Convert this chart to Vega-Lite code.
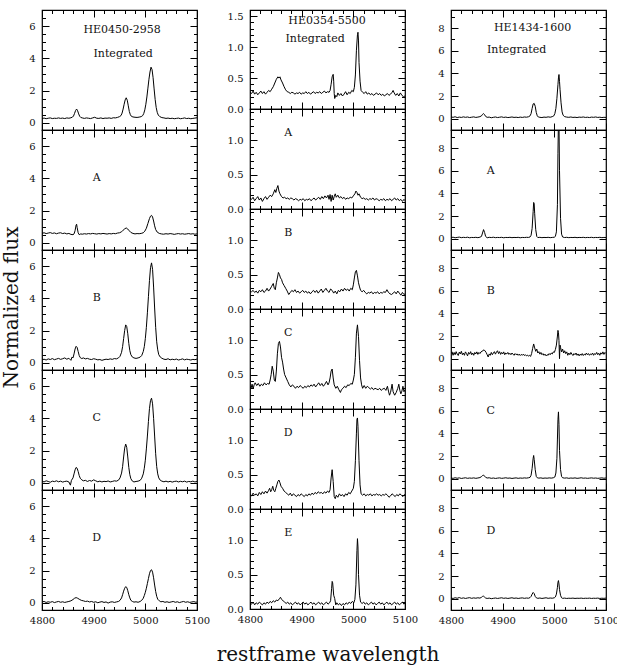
{
  "$schema": "https://vega.github.io/schema/vega-lite/v6.json",
  "background": "white",
  "padding": {"left": 0, "top": 8, "right": 0, "bottom": 0},
  "config": {
    "view": {"stroke": "black", "strokeWidth": 1.2},
    "axis": {"domain": false, "grid": false, "labelFlush": false, "labelOverlap": false, "tickColor": "black", "tickWidth": 1, "labelFont": "DejaVu Serif", "labelFontSize": 10, "labelColor": "#111", "titleFont": "DejaVu Serif", "titleFontSize": 20, "titleFontWeight": "normal", "titleColor": "#111"},
    "axisX": {"labelPadding": 12},
    "axisY": {"labelPadding": 14}
  },
  "datasets": {
    "c1i": [{"w":4800,"f":0.26},{"w":4804,"f":0.29},{"w":4808,"f":0.25},{"w":4812,"f":0.28},{"w":4816,"f":0.3},{"w":4820,"f":0.26},{"w":4824,"f":0.28},{"w":4828,"f":0.27},{"w":4832,"f":0.3},{"w":4836,"f":0.27},{"w":4840,"f":0.29},{"w":4844,"f":0.26},{"w":4848,"f":0.3},{"w":4852,"f":0.28},{"w":4856,"f":0.31},{"w":4859,"f":0.35},{"w":4861,"f":0.42},{"w":4863,"f":0.58},{"w":4865,"f":0.76},{"w":4867,"f":0.85},{"w":4869,"f":0.74},{"w":4871,"f":0.55},{"w":4873,"f":0.4},{"w":4875,"f":0.33},{"w":4878,"f":0.3},{"w":4882,"f":0.27},{"w":4886,"f":0.3},{"w":4890,"f":0.28},{"w":4894,"f":0.26},{"w":4898,"f":0.3},{"w":4902,"f":0.34},{"w":4906,"f":0.28},{"w":4910,"f":0.27},{"w":4914,"f":0.3},{"w":4918,"f":0.26},{"w":4922,"f":0.29},{"w":4926,"f":0.28},{"w":4930,"f":0.3},{"w":4934,"f":0.27},{"w":4938,"f":0.31},{"w":4942,"f":0.3},{"w":4946,"f":0.33},{"w":4950,"f":0.38},{"w":4953,"f":0.45},{"w":4955,"f":0.6},{"w":4957,"f":0.85},{"w":4959,"f":1.15},{"w":4961,"f":1.42},{"w":4963,"f":1.55},{"w":4965,"f":1.4},{"w":4967,"f":1.05},{"w":4969,"f":0.7},{"w":4971,"f":0.5},{"w":4973,"f":0.4},{"w":4976,"f":0.36},{"w":4980,"f":0.34},{"w":4984,"f":0.33},{"w":4988,"f":0.35},{"w":4992,"f":0.38},{"w":4995,"f":0.45},{"w":4997,"f":0.58},{"w":4999,"f":0.8},{"w":5001,"f":1.15},{"w":5003,"f":1.6},{"w":5005,"f":2.15},{"w":5007,"f":2.7},{"w":5009,"f":3.15},{"w":5011,"f":3.45},{"w":5013,"f":3.3},{"w":5015,"f":2.8},{"w":5017,"f":2.1},{"w":5019,"f":1.45},{"w":5021,"f":0.95},{"w":5023,"f":0.65},{"w":5025,"f":0.48},{"w":5028,"f":0.38},{"w":5032,"f":0.32},{"w":5036,"f":0.3},{"w":5040,"f":0.27},{"w":5044,"f":0.29},{"w":5048,"f":0.26},{"w":5052,"f":0.28},{"w":5056,"f":0.25},{"w":5060,"f":0.27},{"w":5064,"f":0.29},{"w":5068,"f":0.25},{"w":5072,"f":0.27},{"w":5076,"f":0.3},{"w":5080,"f":0.26},{"w":5084,"f":0.28},{"w":5088,"f":0.25},{"w":5092,"f":0.27},{"w":5096,"f":0.29},{"w":5100,"f":0.31}],
    "c1a": [{"w":4800,"f":0.58},{"w":4804,"f":0.62},{"w":4808,"f":0.57},{"w":4812,"f":0.6},{"w":4816,"f":0.63},{"w":4820,"f":0.58},{"w":4824,"f":0.61},{"w":4828,"f":0.56},{"w":4832,"f":0.6},{"w":4836,"f":0.62},{"w":4840,"f":0.57},{"w":4844,"f":0.6},{"w":4848,"f":0.55},{"w":4852,"f":0.58},{"w":4856,"f":0.52},{"w":4860,"f":0.5},{"w":4862,"f":0.55},{"w":4864,"f":0.75},{"w":4866,"f":1.1},{"w":4867,"f":1.15},{"w":4868,"f":0.95},{"w":4870,"f":0.62},{"w":4872,"f":0.5},{"w":4875,"f":0.55},{"w":4878,"f":0.53},{"w":4882,"f":0.56},{"w":4886,"f":0.54},{"w":4890,"f":0.57},{"w":4894,"f":0.55},{"w":4898,"f":0.58},{"w":4902,"f":0.56},{"w":4906,"f":0.54},{"w":4910,"f":0.57},{"w":4914,"f":0.55},{"w":4918,"f":0.58},{"w":4922,"f":0.56},{"w":4926,"f":0.54},{"w":4930,"f":0.57},{"w":4934,"f":0.55},{"w":4938,"f":0.58},{"w":4942,"f":0.56},{"w":4946,"f":0.6},{"w":4950,"f":0.62},{"w":4954,"f":0.68},{"w":4957,"f":0.78},{"w":4960,"f":0.86},{"w":4963,"f":0.92},{"w":4966,"f":0.85},{"w":4969,"f":0.74},{"w":4972,"f":0.64},{"w":4976,"f":0.58},{"w":4980,"f":0.55},{"w":4984,"f":0.57},{"w":4988,"f":0.56},{"w":4992,"f":0.58},{"w":4996,"f":0.62},{"w":4999,"f":0.72},{"w":5002,"f":0.9},{"w":5005,"f":1.2},{"w":5008,"f":1.5},{"w":5010,"f":1.65},{"w":5012,"f":1.7},{"w":5014,"f":1.6},{"w":5016,"f":1.35},{"w":5018,"f":1.05},{"w":5020,"f":0.82},{"w":5023,"f":0.66},{"w":5027,"f":0.58},{"w":5031,"f":0.55},{"w":5035,"f":0.53},{"w":5040,"f":0.56},{"w":5044,"f":0.54},{"w":5048,"f":0.57},{"w":5052,"f":0.55},{"w":5056,"f":0.52},{"w":5060,"f":0.55},{"w":5064,"f":0.57},{"w":5068,"f":0.54},{"w":5072,"f":0.56},{"w":5076,"f":0.53},{"w":5080,"f":0.55},{"w":5084,"f":0.57},{"w":5088,"f":0.54},{"w":5092,"f":0.56},{"w":5096,"f":0.53},{"w":5100,"f":0.55}],
    "c1b": [{"w":4800,"f":0.18},{"w":4804,"f":0.22},{"w":4808,"f":0.17},{"w":4812,"f":0.24},{"w":4816,"f":0.2},{"w":4820,"f":0.26},{"w":4824,"f":0.19},{"w":4828,"f":0.23},{"w":4832,"f":0.27},{"w":4836,"f":0.21},{"w":4840,"f":0.25},{"w":4844,"f":0.3},{"w":4848,"f":0.22},{"w":4852,"f":0.28},{"w":4856,"f":0.15},{"w":4858,"f":0.35},{"w":4860,"f":0.3},{"w":4862,"f":0.55},{"w":4864,"f":0.85},{"w":4866,"f":1.02},{"w":4868,"f":0.95},{"w":4870,"f":0.7},{"w":4872,"f":0.45},{"w":4874,"f":0.32},{"w":4877,"f":0.26},{"w":4880,"f":0.3},{"w":4884,"f":0.24},{"w":4888,"f":0.27},{"w":4892,"f":0.22},{"w":4896,"f":0.2},{"w":4900,"f":0.25},{"w":4904,"f":0.22},{"w":4908,"f":0.18},{"w":4912,"f":0.2},{"w":4916,"f":0.15},{"w":4920,"f":0.19},{"w":4924,"f":0.22},{"w":4928,"f":0.2},{"w":4932,"f":0.24},{"w":4936,"f":0.21},{"w":4940,"f":0.26},{"w":4944,"f":0.24},{"w":4948,"f":0.3},{"w":4951,"f":0.4},{"w":4954,"f":0.65},{"w":4956,"f":1.0},{"w":4958,"f":1.5},{"w":4960,"f":2.0},{"w":4962,"f":2.35},{"w":4964,"f":2.25},{"w":4966,"f":1.8},{"w":4968,"f":1.2},{"w":4970,"f":0.75},{"w":4972,"f":0.5},{"w":4975,"f":0.35},{"w":4978,"f":0.3},{"w":4982,"f":0.27},{"w":4986,"f":0.3},{"w":4990,"f":0.35},{"w":4993,"f":0.45},{"w":4996,"f":0.7},{"w":4998,"f":1.0},{"w":5000,"f":1.5},{"w":5002,"f":2.2},{"w":5004,"f":3.1},{"w":5006,"f":4.1},{"w":5008,"f":5.1},{"w":5010,"f":5.9},{"w":5012,"f":6.2},{"w":5014,"f":5.8},{"w":5016,"f":4.7},{"w":5018,"f":3.4},{"w":5020,"f":2.2},{"w":5022,"f":1.3},{"w":5024,"f":0.8},{"w":5026,"f":0.5},{"w":5029,"f":0.35},{"w":5032,"f":0.28},{"w":5036,"f":0.22},{"w":5040,"f":0.2},{"w":5044,"f":0.25},{"w":5048,"f":0.18},{"w":5052,"f":0.22},{"w":5056,"f":0.19},{"w":5060,"f":0.23},{"w":5064,"f":0.17},{"w":5068,"f":0.2},{"w":5072,"f":0.24},{"w":5076,"f":0.18},{"w":5080,"f":0.22},{"w":5084,"f":0.2},{"w":5088,"f":0.17},{"w":5092,"f":0.21},{"w":5096,"f":0.19},{"w":5100,"f":0.23}],
    "c1c": [{"w":4800,"f":0.1},{"w":4804,"f":0.05},{"w":4808,"f":0.12},{"w":4812,"f":0.08},{"w":4816,"f":0.03},{"w":4820,"f":0.1},{"w":4824,"f":0.07},{"w":4828,"f":0.12},{"w":4832,"f":0.06},{"w":4836,"f":0.1},{"w":4840,"f":0.04},{"w":4844,"f":0.08},{"w":4848,"f":0.1},{"w":4852,"f":0.05},{"w":4855,"f":-0.15},{"w":4857,"f":0.15},{"w":4860,"f":0.3},{"w":4862,"f":0.55},{"w":4864,"f":0.8},{"w":4866,"f":0.95},{"w":4868,"f":0.9},{"w":4870,"f":0.7},{"w":4872,"f":0.45},{"w":4874,"f":0.28},{"w":4877,"f":0.18},{"w":4880,"f":0.12},{"w":4884,"f":0.15},{"w":4888,"f":0.08},{"w":4892,"f":0.14},{"w":4896,"f":0.1},{"w":4900,"f":0.18},{"w":4904,"f":0.12},{"w":4908,"f":0.06},{"w":4912,"f":0.1},{"w":4916,"f":0.05},{"w":4920,"f":0.09},{"w":4924,"f":0.07},{"w":4928,"f":0.11},{"w":4932,"f":0.05},{"w":4936,"f":0.08},{"w":4940,"f":0.12},{"w":4944,"f":0.1},{"w":4948,"f":0.16},{"w":4951,"f":0.3},{"w":4954,"f":0.6},{"w":4956,"f":1.0},{"w":4958,"f":1.6},{"w":4960,"f":2.15},{"w":4962,"f":2.4},{"w":4964,"f":2.2},{"w":4966,"f":1.6},{"w":4968,"f":0.95},{"w":4970,"f":0.5},{"w":4972,"f":0.25},{"w":4975,"f":0.1},{"w":4978,"f":0.05},{"w":4982,"f":0.08},{"w":4986,"f":0.1},{"w":4990,"f":0.15},{"w":4993,"f":0.28},{"w":4996,"f":0.55},{"w":4998,"f":0.9},{"w":5000,"f":1.4},{"w":5002,"f":2.1},{"w":5004,"f":2.9},{"w":5006,"f":3.8},{"w":5008,"f":4.6},{"w":5010,"f":5.1},{"w":5012,"f":5.25},{"w":5014,"f":4.9},{"w":5016,"f":4.0},{"w":5018,"f":2.9},{"w":5020,"f":1.8},{"w":5022,"f":1.0},{"w":5024,"f":0.55},{"w":5026,"f":0.3},{"w":5029,"f":0.15},{"w":5032,"f":0.1},{"w":5036,"f":0.06},{"w":5040,"f":0.1},{"w":5044,"f":0.05},{"w":5048,"f":0.09},{"w":5052,"f":0.04},{"w":5056,"f":0.08},{"w":5060,"f":0.1},{"w":5064,"f":0.05},{"w":5068,"f":0.09},{"w":5072,"f":0.06},{"w":5076,"f":0.1},{"w":5080,"f":0.04},{"w":5084,"f":0.08},{"w":5088,"f":0.06},{"w":5092,"f":0.1},{"w":5096,"f":0.05},{"w":5100,"f":0.08}],
    "c1d": [{"w":4800,"f":0.05},{"w":4804,"f":0.08},{"w":4808,"f":0.02},{"w":4812,"f":0.06},{"w":4816,"f":0.03},{"w":4820,"f":0.07},{"w":4824,"f":0.01},{"w":4828,"f":0.05},{"w":4832,"f":0.08},{"w":4836,"f":0.03},{"w":4840,"f":0.06},{"w":4844,"f":0.02},{"w":4848,"f":0.05},{"w":4852,"f":0.08},{"w":4856,"f":0.12},{"w":4860,"f":0.2},{"w":4863,"f":0.28},{"w":4866,"f":0.32},{"w":4869,"f":0.28},{"w":4872,"f":0.22},{"w":4876,"f":0.15},{"w":4880,"f":0.12},{"w":4884,"f":0.08},{"w":4888,"f":0.1},{"w":4892,"f":0.05},{"w":4896,"f":0.08},{"w":4900,"f":0.03},{"w":4904,"f":0.06},{"w":4908,"f":0.0},{"w":4912,"f":0.04},{"w":4916,"f":0.07},{"w":4920,"f":0.02},{"w":4924,"f":0.05},{"w":4928,"f":-0.02},{"w":4932,"f":0.04},{"w":4936,"f":0.06},{"w":4940,"f":0.02},{"w":4944,"f":0.05},{"w":4948,"f":0.08},{"w":4951,"f":0.15},{"w":4954,"f":0.3},{"w":4956,"f":0.5},{"w":4958,"f":0.72},{"w":4960,"f":0.9},{"w":4962,"f":1.0},{"w":4964,"f":0.95},{"w":4966,"f":0.75},{"w":4968,"f":0.5},{"w":4970,"f":0.3},{"w":4972,"f":0.15},{"w":4975,"f":0.08},{"w":4978,"f":0.04},{"w":4982,"f":0.06},{"w":4986,"f":0.03},{"w":4990,"f":0.08},{"w":4993,"f":0.15},{"w":4996,"f":0.28},{"w":4998,"f":0.45},{"w":5000,"f":0.65},{"w":5002,"f":0.9},{"w":5004,"f":1.2},{"w":5006,"f":1.5},{"w":5008,"f":1.8},{"w":5010,"f":2.0},{"w":5012,"f":2.05},{"w":5014,"f":1.9},{"w":5016,"f":1.55},{"w":5018,"f":1.1},{"w":5020,"f":0.7},{"w":5022,"f":0.4},{"w":5024,"f":0.22},{"w":5027,"f":0.12},{"w":5030,"f":0.06},{"w":5034,"f":0.08},{"w":5038,"f":0.03},{"w":5042,"f":0.06},{"w":5046,"f":0.02},{"w":5050,"f":0.05},{"w":5054,"f":0.08},{"w":5058,"f":0.03},{"w":5062,"f":0.06},{"w":5066,"f":0.01},{"w":5070,"f":0.05},{"w":5074,"f":0.08},{"w":5078,"f":0.03},{"w":5082,"f":0.06},{"w":5086,"f":0.02},{"w":5090,"f":0.05},{"w":5094,"f":0.07},{"w":5098,"f":0.03},{"w":5100,"f":0.05}],
    "c2i": [{"w":4800,"f":0.27},{"w":4803,"f":0.25},{"w":4806,"f":0.29},{"w":4809,"f":0.24},{"w":4812,"f":0.27},{"w":4815,"f":0.23},{"w":4818,"f":0.26},{"w":4821,"f":0.29},{"w":4824,"f":0.25},{"w":4827,"f":0.28},{"w":4830,"f":0.24},{"w":4833,"f":0.27},{"w":4836,"f":0.3},{"w":4839,"f":0.28},{"w":4842,"f":0.32},{"w":4845,"f":0.36},{"w":4848,"f":0.42},{"w":4851,"f":0.48},{"w":4854,"f":0.52},{"w":4856,"f":0.5},{"w":4858,"f":0.52},{"w":4860,"f":0.47},{"w":4863,"f":0.42},{"w":4866,"f":0.36},{"w":4869,"f":0.31},{"w":4872,"f":0.28},{"w":4875,"f":0.27},{"w":4878,"f":0.25},{"w":4881,"f":0.27},{"w":4884,"f":0.26},{"w":4887,"f":0.24},{"w":4890,"f":0.26},{"w":4893,"f":0.25},{"w":4896,"f":0.27},{"w":4899,"f":0.24},{"w":4902,"f":0.26},{"w":4905,"f":0.25},{"w":4908,"f":0.28},{"w":4911,"f":0.25},{"w":4914,"f":0.27},{"w":4917,"f":0.24},{"w":4920,"f":0.26},{"w":4923,"f":0.28},{"w":4926,"f":0.25},{"w":4929,"f":0.27},{"w":4932,"f":0.26},{"w":4935,"f":0.28},{"w":4938,"f":0.25},{"w":4941,"f":0.27},{"w":4944,"f":0.29},{"w":4947,"f":0.26},{"w":4950,"f":0.28},{"w":4953,"f":0.27},{"w":4955,"f":0.3},{"w":4957,"f":0.4},{"w":4959,"f":0.52},{"w":4961,"f":0.56},{"w":4962,"f":0.45},{"w":4963,"f":0.25},{"w":4964,"f":0.17},{"w":4966,"f":0.22},{"w":4968,"f":0.2},{"w":4970,"f":0.26},{"w":4973,"f":0.22},{"w":4976,"f":0.25},{"w":4979,"f":0.21},{"w":4982,"f":0.24},{"w":4985,"f":0.28},{"w":4988,"f":0.23},{"w":4991,"f":0.27},{"w":4994,"f":0.25},{"w":4997,"f":0.3},{"w":5000,"f":0.28},{"w":5002,"f":0.35},{"w":5004,"f":0.55},{"w":5006,"f":0.95},{"w":5008,"f":1.2},{"w":5009,"f":1.24},{"w":5010,"f":1.1},{"w":5011,"f":0.75},{"w":5013,"f":0.45},{"w":5015,"f":0.3},{"w":5018,"f":0.27},{"w":5021,"f":0.25},{"w":5024,"f":0.28},{"w":5027,"f":0.24},{"w":5030,"f":0.26},{"w":5033,"f":0.23},{"w":5036,"f":0.25},{"w":5039,"f":0.22},{"w":5042,"f":0.24},{"w":5045,"f":0.26},{"w":5048,"f":0.23},{"w":5051,"f":0.25},{"w":5054,"f":0.22},{"w":5057,"f":0.24},{"w":5060,"f":0.21},{"w":5063,"f":0.23},{"w":5066,"f":0.25},{"w":5069,"f":0.22},{"w":5072,"f":0.24},{"w":5075,"f":0.27},{"w":5077,"f":0.3},{"w":5079,"f":0.26},{"w":5082,"f":0.22},{"w":5085,"f":0.25},{"w":5088,"f":0.21},{"w":5091,"f":0.26},{"w":5094,"f":0.22},{"w":5097,"f":0.2},{"w":5100,"f":0.21}],
    "c2a": [{"w":4800,"f":0.16},{"w":4803,"f":0.14},{"w":4806,"f":0.17},{"w":4809,"f":0.12},{"w":4812,"f":0.15},{"w":4815,"f":0.18},{"w":4818,"f":0.13},{"w":4821,"f":0.16},{"w":4824,"f":0.11},{"w":4827,"f":0.15},{"w":4830,"f":0.18},{"w":4833,"f":0.14},{"w":4836,"f":0.17},{"w":4839,"f":0.2},{"w":4842,"f":0.18},{"w":4845,"f":0.22},{"w":4848,"f":0.28},{"w":4850,"f":0.24},{"w":4852,"f":0.3},{"w":4854,"f":0.34},{"w":4856,"f":0.26},{"w":4858,"f":0.22},{"w":4861,"f":0.18},{"w":4864,"f":0.16},{"w":4867,"f":0.17},{"w":4870,"f":0.15},{"w":4873,"f":0.16},{"w":4876,"f":0.14},{"w":4879,"f":0.16},{"w":4882,"f":0.15},{"w":4885,"f":0.13},{"w":4888,"f":0.15},{"w":4891,"f":0.14},{"w":4894,"f":0.12},{"w":4897,"f":0.14},{"w":4900,"f":0.13},{"w":4903,"f":0.15},{"w":4906,"f":0.12},{"w":4909,"f":0.14},{"w":4912,"f":0.13},{"w":4915,"f":0.15},{"w":4918,"f":0.12},{"w":4921,"f":0.14},{"w":4924,"f":0.16},{"w":4927,"f":0.13},{"w":4930,"f":0.15},{"w":4933,"f":0.17},{"w":4936,"f":0.14},{"w":4939,"f":0.18},{"w":4942,"f":0.15},{"w":4945,"f":0.19},{"w":4948,"f":0.16},{"w":4951,"f":0.2},{"w":4953,"f":0.14},{"w":4955,"f":0.21},{"w":4957,"f":0.11},{"w":4959,"f":0.2},{"w":4961,"f":0.13},{"w":4963,"f":0.18},{"w":4965,"f":0.22},{"w":4967,"f":0.17},{"w":4970,"f":0.2},{"w":4973,"f":0.16},{"w":4976,"f":0.18},{"w":4979,"f":0.15},{"w":4982,"f":0.17},{"w":4985,"f":0.14},{"w":4988,"f":0.16},{"w":4991,"f":0.15},{"w":4994,"f":0.17},{"w":4997,"f":0.16},{"w":5000,"f":0.19},{"w":5003,"f":0.22},{"w":5005,"f":0.26},{"w":5007,"f":0.24},{"w":5009,"f":0.2},{"w":5011,"f":0.22},{"w":5014,"f":0.17},{"w":5017,"f":0.15},{"w":5020,"f":0.16},{"w":5023,"f":0.14},{"w":5026,"f":0.15},{"w":5029,"f":0.13},{"w":5032,"f":0.15},{"w":5035,"f":0.14},{"w":5038,"f":0.16},{"w":5041,"f":0.13},{"w":5044,"f":0.15},{"w":5047,"f":0.14},{"w":5050,"f":0.12},{"w":5053,"f":0.14},{"w":5056,"f":0.13},{"w":5059,"f":0.15},{"w":5062,"f":0.12},{"w":5065,"f":0.14},{"w":5068,"f":0.13},{"w":5071,"f":0.15},{"w":5074,"f":0.12},{"w":5077,"f":0.14},{"w":5080,"f":0.16},{"w":5083,"f":0.13},{"w":5086,"f":0.15},{"w":5089,"f":0.12},{"w":5092,"f":0.14},{"w":5095,"f":0.11},{"w":5098,"f":0.14},{"w":5100,"f":0.12}],
    "c2b": [{"w":4800,"f":0.26},{"w":4803,"f":0.25},{"w":4806,"f":0.27},{"w":4809,"f":0.24},{"w":4812,"f":0.26},{"w":4815,"f":0.23},{"w":4818,"f":0.27},{"w":4821,"f":0.25},{"w":4824,"f":0.28},{"w":4827,"f":0.24},{"w":4830,"f":0.26},{"w":4833,"f":0.3},{"w":4836,"f":0.26},{"w":4839,"f":0.29},{"w":4842,"f":0.33},{"w":4845,"f":0.37},{"w":4847,"f":0.3},{"w":4849,"f":0.28},{"w":4851,"f":0.38},{"w":4853,"f":0.45},{"w":4855,"f":0.53},{"w":4857,"f":0.5},{"w":4859,"f":0.45},{"w":4861,"f":0.43},{"w":4863,"f":0.38},{"w":4866,"f":0.34},{"w":4869,"f":0.3},{"w":4872,"f":0.26},{"w":4875,"f":0.21},{"w":4878,"f":0.24},{"w":4881,"f":0.27},{"w":4884,"f":0.25},{"w":4887,"f":0.28},{"w":4890,"f":0.24},{"w":4893,"f":0.26},{"w":4896,"f":0.23},{"w":4899,"f":0.25},{"w":4902,"f":0.27},{"w":4905,"f":0.24},{"w":4908,"f":0.26},{"w":4911,"f":0.23},{"w":4914,"f":0.25},{"w":4917,"f":0.22},{"w":4920,"f":0.25},{"w":4923,"f":0.27},{"w":4926,"f":0.24},{"w":4929,"f":0.27},{"w":4932,"f":0.23},{"w":4935,"f":0.26},{"w":4938,"f":0.29},{"w":4941,"f":0.24},{"w":4944,"f":0.27},{"w":4947,"f":0.3},{"w":4950,"f":0.26},{"w":4953,"f":0.24},{"w":4956,"f":0.29},{"w":4959,"f":0.27},{"w":4962,"f":0.23},{"w":4965,"f":0.26},{"w":4968,"f":0.22},{"w":4971,"f":0.27},{"w":4974,"f":0.25},{"w":4977,"f":0.29},{"w":4980,"f":0.26},{"w":4983,"f":0.3},{"w":4986,"f":0.27},{"w":4989,"f":0.29},{"w":4992,"f":0.26},{"w":4995,"f":0.3},{"w":4998,"f":0.28},{"w":5000,"f":0.35},{"w":5002,"f":0.45},{"w":5004,"f":0.54},{"w":5006,"f":0.56},{"w":5008,"f":0.48},{"w":5010,"f":0.38},{"w":5012,"f":0.32},{"w":5014,"f":0.27},{"w":5017,"f":0.25},{"w":5020,"f":0.27},{"w":5023,"f":0.24},{"w":5026,"f":0.22},{"w":5029,"f":0.24},{"w":5032,"f":0.23},{"w":5035,"f":0.25},{"w":5038,"f":0.22},{"w":5041,"f":0.24},{"w":5044,"f":0.23},{"w":5047,"f":0.25},{"w":5050,"f":0.22},{"w":5053,"f":0.24},{"w":5056,"f":0.23},{"w":5059,"f":0.25},{"w":5062,"f":0.24},{"w":5065,"f":0.28},{"w":5068,"f":0.24},{"w":5071,"f":0.22},{"w":5074,"f":0.21},{"w":5077,"f":0.23},{"w":5080,"f":0.25},{"w":5083,"f":0.22},{"w":5086,"f":0.26},{"w":5089,"f":0.23},{"w":5092,"f":0.2},{"w":5095,"f":0.24},{"w":5098,"f":0.21},{"w":5100,"f":0.22}],
    "c2c": [{"w":4800,"f":0.33},{"w":4802,"f":0.3},{"w":4804,"f":0.36},{"w":4806,"f":0.29},{"w":4808,"f":0.35},{"w":4810,"f":0.38},{"w":4813,"f":0.34},{"w":4816,"f":0.37},{"w":4819,"f":0.33},{"w":4822,"f":0.36},{"w":4825,"f":0.34},{"w":4828,"f":0.38},{"w":4831,"f":0.35},{"w":4834,"f":0.37},{"w":4837,"f":0.36},{"w":4839,"f":0.42},{"w":4841,"f":0.5},{"w":4843,"f":0.62},{"w":4845,"f":0.55},{"w":4847,"f":0.42},{"w":4849,"f":0.4},{"w":4851,"f":0.55},{"w":4853,"f":0.8},{"w":4855,"f":0.95},{"w":4857,"f":0.98},{"w":4859,"f":0.9},{"w":4861,"f":0.75},{"w":4863,"f":0.68},{"w":4865,"f":0.58},{"w":4867,"f":0.5},{"w":4870,"f":0.45},{"w":4873,"f":0.4},{"w":4876,"f":0.35},{"w":4879,"f":0.32},{"w":4882,"f":0.35},{"w":4885,"f":0.33},{"w":4888,"f":0.3},{"w":4891,"f":0.33},{"w":4894,"f":0.31},{"w":4897,"f":0.34},{"w":4900,"f":0.32},{"w":4903,"f":0.3},{"w":4906,"f":0.33},{"w":4909,"f":0.31},{"w":4912,"f":0.34},{"w":4915,"f":0.32},{"w":4918,"f":0.35},{"w":4921,"f":0.33},{"w":4924,"f":0.36},{"w":4927,"f":0.32},{"w":4930,"f":0.35},{"w":4933,"f":0.38},{"w":4936,"f":0.34},{"w":4939,"f":0.37},{"w":4942,"f":0.33},{"w":4945,"f":0.36},{"w":4948,"f":0.4},{"w":4951,"f":0.35},{"w":4953,"f":0.38},{"w":4955,"f":0.45},{"w":4957,"f":0.55},{"w":4959,"f":0.58},{"w":4961,"f":0.45},{"w":4963,"f":0.35},{"w":4966,"f":0.3},{"w":4969,"f":0.33},{"w":4972,"f":0.28},{"w":4975,"f":0.24},{"w":4977,"f":0.28},{"w":4980,"f":0.3},{"w":4983,"f":0.33},{"w":4986,"f":0.31},{"w":4989,"f":0.35},{"w":4992,"f":0.34},{"w":4995,"f":0.37},{"w":4998,"f":0.36},{"w":5000,"f":0.42},{"w":5002,"f":0.5},{"w":5004,"f":0.75},{"w":5006,"f":1.1},{"w":5008,"f":1.22},{"w":5010,"f":1.05},{"w":5012,"f":0.7},{"w":5014,"f":0.45},{"w":5016,"f":0.35},{"w":5018,"f":0.3},{"w":5021,"f":0.34},{"w":5024,"f":0.3},{"w":5027,"f":0.33},{"w":5030,"f":0.31},{"w":5033,"f":0.29},{"w":5036,"f":0.31},{"w":5039,"f":0.28},{"w":5042,"f":0.3},{"w":5045,"f":0.29},{"w":5048,"f":0.28},{"w":5051,"f":0.3},{"w":5054,"f":0.27},{"w":5057,"f":0.29},{"w":5060,"f":0.3},{"w":5063,"f":0.27},{"w":5066,"f":0.33},{"w":5068,"f":0.26},{"w":5070,"f":0.2},{"w":5072,"f":0.24},{"w":5075,"f":0.36},{"w":5077,"f":0.25},{"w":5080,"f":0.2},{"w":5083,"f":0.24},{"w":5086,"f":0.3},{"w":5088,"f":0.36},{"w":5090,"f":0.27},{"w":5092,"f":0.22},{"w":5094,"f":0.26},{"w":5096,"f":0.33},{"w":5098,"f":0.25},{"w":5100,"f":0.28}],
    "c2d": [{"w":4800,"f":0.21},{"w":4803,"f":0.19},{"w":4806,"f":0.23},{"w":4809,"f":0.2},{"w":4812,"f":0.22},{"w":4815,"f":0.19},{"w":4818,"f":0.24},{"w":4821,"f":0.21},{"w":4824,"f":0.25},{"w":4827,"f":0.22},{"w":4830,"f":0.26},{"w":4833,"f":0.23},{"w":4836,"f":0.27},{"w":4838,"f":0.3},{"w":4840,"f":0.25},{"w":4842,"f":0.28},{"w":4844,"f":0.33},{"w":4846,"f":0.27},{"w":4848,"f":0.25},{"w":4850,"f":0.3},{"w":4852,"f":0.35},{"w":4854,"f":0.4},{"w":4856,"f":0.42},{"w":4858,"f":0.38},{"w":4860,"f":0.33},{"w":4863,"f":0.3},{"w":4866,"f":0.26},{"w":4869,"f":0.24},{"w":4872,"f":0.22},{"w":4875,"f":0.2},{"w":4878,"f":0.23},{"w":4881,"f":0.19},{"w":4884,"f":0.22},{"w":4887,"f":0.2},{"w":4890,"f":0.18},{"w":4893,"f":0.21},{"w":4896,"f":0.19},{"w":4899,"f":0.22},{"w":4902,"f":0.2},{"w":4905,"f":0.18},{"w":4908,"f":0.21},{"w":4911,"f":0.19},{"w":4914,"f":0.22},{"w":4917,"f":0.2},{"w":4920,"f":0.23},{"w":4923,"f":0.21},{"w":4926,"f":0.24},{"w":4929,"f":0.22},{"w":4932,"f":0.25},{"w":4935,"f":0.23},{"w":4938,"f":0.24},{"w":4941,"f":0.22},{"w":4944,"f":0.25},{"w":4947,"f":0.23},{"w":4950,"f":0.26},{"w":4953,"f":0.24},{"w":4955,"f":0.28},{"w":4957,"f":0.45},{"w":4959,"f":0.57},{"w":4961,"f":0.4},{"w":4963,"f":0.18},{"w":4965,"f":0.15},{"w":4967,"f":0.2},{"w":4970,"f":0.17},{"w":4973,"f":0.22},{"w":4976,"f":0.19},{"w":4979,"f":0.21},{"w":4982,"f":0.18},{"w":4985,"f":0.22},{"w":4988,"f":0.2},{"w":4991,"f":0.24},{"w":4994,"f":0.22},{"w":4997,"f":0.26},{"w":5000,"f":0.3},{"w":5002,"f":0.4},{"w":5004,"f":0.7},{"w":5006,"f":1.1},{"w":5007,"f":1.3},{"w":5008,"f":1.32},{"w":5009,"f":1.2},{"w":5011,"f":0.7},{"w":5013,"f":0.35},{"w":5015,"f":0.22},{"w":5018,"f":0.2},{"w":5021,"f":0.22},{"w":5024,"f":0.19},{"w":5027,"f":0.21},{"w":5030,"f":0.2},{"w":5033,"f":0.22},{"w":5036,"f":0.19},{"w":5039,"f":0.21},{"w":5042,"f":0.2},{"w":5045,"f":0.22},{"w":5048,"f":0.2},{"w":5051,"f":0.21},{"w":5054,"f":0.19},{"w":5057,"f":0.21},{"w":5060,"f":0.2},{"w":5063,"f":0.22},{"w":5066,"f":0.2},{"w":5069,"f":0.17},{"w":5072,"f":0.19},{"w":5075,"f":0.22},{"w":5078,"f":0.2},{"w":5081,"f":0.18},{"w":5084,"f":0.21},{"w":5087,"f":0.19},{"w":5090,"f":0.22},{"w":5093,"f":0.2},{"w":5096,"f":0.18},{"w":5099,"f":0.21},{"w":5100,"f":0.2}],
    "c2e": [{"w":4800,"f":0.09},{"w":4803,"f":0.07},{"w":4806,"f":0.1},{"w":4809,"f":0.06},{"w":4812,"f":0.09},{"w":4815,"f":0.07},{"w":4818,"f":0.1},{"w":4821,"f":0.08},{"w":4824,"f":0.06},{"w":4827,"f":0.09},{"w":4830,"f":0.07},{"w":4833,"f":0.1},{"w":4836,"f":0.08},{"w":4839,"f":0.11},{"w":4842,"f":0.09},{"w":4845,"f":0.12},{"w":4848,"f":0.1},{"w":4851,"f":0.13},{"w":4854,"f":0.12},{"w":4857,"f":0.15},{"w":4859,"f":0.17},{"w":4861,"f":0.14},{"w":4864,"f":0.12},{"w":4867,"f":0.1},{"w":4870,"f":0.08},{"w":4873,"f":0.1},{"w":4876,"f":0.07},{"w":4879,"f":0.09},{"w":4882,"f":0.06},{"w":4885,"f":0.08},{"w":4888,"f":0.1},{"w":4891,"f":0.07},{"w":4894,"f":0.09},{"w":4897,"f":0.06},{"w":4900,"f":0.08},{"w":4903,"f":0.1},{"w":4906,"f":0.07},{"w":4909,"f":0.09},{"w":4912,"f":0.06},{"w":4915,"f":0.08},{"w":4918,"f":0.1},{"w":4921,"f":0.07},{"w":4924,"f":0.09},{"w":4927,"f":0.06},{"w":4930,"f":0.08},{"w":4933,"f":0.1},{"w":4936,"f":0.07},{"w":4939,"f":0.09},{"w":4942,"f":0.06},{"w":4945,"f":0.08},{"w":4948,"f":0.1},{"w":4951,"f":0.07},{"w":4954,"f":0.09},{"w":4956,"f":0.12},{"w":4958,"f":0.3},{"w":4959,"f":0.4},{"w":4960,"f":0.38},{"w":4962,"f":0.2},{"w":4964,"f":0.15},{"w":4966,"f":0.06},{"w":4968,"f":0.09},{"w":4971,"f":0.06},{"w":4974,"f":0.08},{"w":4977,"f":0.05},{"w":4980,"f":0.08},{"w":4983,"f":0.06},{"w":4986,"f":0.09},{"w":4989,"f":0.07},{"w":4992,"f":0.1},{"w":4995,"f":0.08},{"w":4998,"f":0.11},{"w":5001,"f":0.09},{"w":5003,"f":0.14},{"w":5005,"f":0.35},{"w":5007,"f":0.85},{"w":5008,"f":1.02},{"w":5009,"f":0.9},{"w":5010,"f":0.5},{"w":5012,"f":0.2},{"w":5014,"f":0.1},{"w":5017,"f":0.08},{"w":5020,"f":0.1},{"w":5023,"f":0.07},{"w":5026,"f":0.09},{"w":5029,"f":0.06},{"w":5032,"f":0.08},{"w":5035,"f":0.1},{"w":5038,"f":0.07},{"w":5041,"f":0.09},{"w":5044,"f":0.06},{"w":5047,"f":0.08},{"w":5050,"f":0.1},{"w":5053,"f":0.07},{"w":5056,"f":0.09},{"w":5059,"f":0.06},{"w":5062,"f":0.08},{"w":5065,"f":0.1},{"w":5068,"f":0.07},{"w":5071,"f":0.09},{"w":5074,"f":0.06},{"w":5077,"f":0.08},{"w":5080,"f":0.1},{"w":5083,"f":0.07},{"w":5086,"f":0.09},{"w":5089,"f":0.06},{"w":5092,"f":0.08},{"w":5095,"f":0.1},{"w":5098,"f":0.07},{"w":5100,"f":0.09}],
    "c3i": [{"w":4800,"f":0.15},{"w":4804,"f":0.12},{"w":4808,"f":0.17},{"w":4812,"f":0.1},{"w":4816,"f":0.14},{"w":4820,"f":0.11},{"w":4824,"f":0.16},{"w":4828,"f":0.12},{"w":4832,"f":0.15},{"w":4836,"f":0.1},{"w":4840,"f":0.13},{"w":4844,"f":0.16},{"w":4848,"f":0.11},{"w":4852,"f":0.14},{"w":4856,"f":0.18},{"w":4859,"f":0.25},{"w":4861,"f":0.38},{"w":4863,"f":0.45},{"w":4865,"f":0.35},{"w":4867,"f":0.2},{"w":4870,"f":0.12},{"w":4874,"f":0.14},{"w":4878,"f":0.08},{"w":4882,"f":0.12},{"w":4886,"f":0.15},{"w":4890,"f":0.1},{"w":4894,"f":0.13},{"w":4898,"f":0.16},{"w":4902,"f":0.11},{"w":4906,"f":0.14},{"w":4910,"f":0.1},{"w":4914,"f":0.12},{"w":4918,"f":0.15},{"w":4922,"f":0.11},{"w":4926,"f":0.13},{"w":4930,"f":0.1},{"w":4934,"f":0.14},{"w":4938,"f":0.11},{"w":4942,"f":0.15},{"w":4946,"f":0.13},{"w":4950,"f":0.17},{"w":4953,"f":0.25},{"w":4955,"f":0.45},{"w":4957,"f":0.9},{"w":4959,"f":1.3},{"w":4961,"f":1.35},{"w":4963,"f":1.1},{"w":4965,"f":0.55},{"w":4967,"f":0.25},{"w":4969,"f":0.15},{"w":4972,"f":0.12},{"w":4976,"f":0.1},{"w":4980,"f":0.14},{"w":4984,"f":0.12},{"w":4988,"f":0.16},{"w":4992,"f":0.13},{"w":4996,"f":0.18},{"w":4999,"f":0.25},{"w":5001,"f":0.45},{"w":5003,"f":0.9},{"w":5005,"f":1.8},{"w":5007,"f":3.0},{"w":5008,"f":3.6},{"w":5009,"f":3.9},{"w":5010,"f":3.3},{"w":5011,"f":2.6},{"w":5013,"f":1.4},{"w":5015,"f":0.6},{"w":5017,"f":0.3},{"w":5020,"f":0.18},{"w":5024,"f":0.14},{"w":5028,"f":0.12},{"w":5032,"f":0.15},{"w":5036,"f":0.11},{"w":5040,"f":0.13},{"w":5044,"f":0.1},{"w":5048,"f":0.14},{"w":5052,"f":0.12},{"w":5056,"f":0.15},{"w":5060,"f":0.11},{"w":5064,"f":0.13},{"w":5068,"f":0.1},{"w":5072,"f":0.14},{"w":5076,"f":0.12},{"w":5080,"f":0.15},{"w":5084,"f":0.11},{"w":5088,"f":0.13},{"w":5092,"f":0.1},{"w":5096,"f":0.12},{"w":5100,"f":0.11}],
    "c3a": [{"w":4800,"f":0.1},{"w":4804,"f":0.13},{"w":4808,"f":0.08},{"w":4812,"f":0.11},{"w":4816,"f":0.14},{"w":4820,"f":0.09},{"w":4824,"f":0.12},{"w":4828,"f":0.1},{"w":4832,"f":0.13},{"w":4836,"f":0.08},{"w":4840,"f":0.11},{"w":4844,"f":0.1},{"w":4848,"f":0.12},{"w":4852,"f":0.09},{"w":4856,"f":0.13},{"w":4859,"f":0.2},{"w":4861,"f":0.5},{"w":4863,"f":0.8},{"w":4865,"f":0.55},{"w":4867,"f":0.2},{"w":4870,"f":0.08},{"w":4874,"f":0.12},{"w":4878,"f":0.1},{"w":4882,"f":0.13},{"w":4886,"f":0.09},{"w":4890,"f":0.11},{"w":4894,"f":0.1},{"w":4898,"f":0.12},{"w":4902,"f":0.08},{"w":4906,"f":0.11},{"w":4910,"f":0.1},{"w":4914,"f":0.12},{"w":4918,"f":0.09},{"w":4922,"f":0.11},{"w":4926,"f":0.1},{"w":4930,"f":0.12},{"w":4934,"f":0.08},{"w":4938,"f":0.11},{"w":4942,"f":0.1},{"w":4946,"f":0.12},{"w":4950,"f":0.11},{"w":4953,"f":0.15},{"w":4955,"f":0.3},{"w":4957,"f":0.9},{"w":4959,"f":2.4},{"w":4960,"f":3.2},{"w":4961,"f":3.1},{"w":4962,"f":2.2},{"w":4964,"f":0.8},{"w":4966,"f":0.2},{"w":4968,"f":0.1},{"w":4972,"f":0.12},{"w":4976,"f":0.09},{"w":4980,"f":0.11},{"w":4984,"f":0.1},{"w":4988,"f":0.12},{"w":4992,"f":0.09},{"w":4996,"f":0.11},{"w":5000,"f":0.13},{"w":5002,"f":0.2},{"w":5004,"f":0.6},{"w":5006,"f":3.0},{"w":5007,"f":7.5},{"w":5008,"f":10.5},{"w":5009,"f":10.2},{"w":5010,"f":6.0},{"w":5012,"f":1.8},{"w":5014,"f":0.4},{"w":5016,"f":0.15},{"w":5020,"f":0.1},{"w":5024,"f":0.12},{"w":5028,"f":0.09},{"w":5032,"f":0.11},{"w":5036,"f":0.1},{"w":5040,"f":0.12},{"w":5044,"f":0.09},{"w":5048,"f":0.11},{"w":5052,"f":0.1},{"w":5056,"f":0.12},{"w":5060,"f":0.09},{"w":5064,"f":0.11},{"w":5068,"f":0.1},{"w":5072,"f":0.12},{"w":5076,"f":0.09},{"w":5080,"f":0.11},{"w":5084,"f":0.1},{"w":5088,"f":0.12},{"w":5092,"f":0.09},{"w":5096,"f":0.11},{"w":5100,"f":0.1}],
    "c3b": [{"w":4800,"f":0.45},{"w":4802,"f":0.6},{"w":4804,"f":0.3},{"w":4806,"f":0.55},{"w":4808,"f":0.35},{"w":4810,"f":0.62},{"w":4812,"f":0.4},{"w":4814,"f":0.28},{"w":4816,"f":0.58},{"w":4818,"f":0.42},{"w":4820,"f":0.65},{"w":4822,"f":0.35},{"w":4824,"f":0.5},{"w":4826,"f":0.3},{"w":4828,"f":0.6},{"w":4830,"f":0.45},{"w":4832,"f":0.25},{"w":4834,"f":0.55},{"w":4836,"f":0.4},{"w":4838,"f":0.62},{"w":4840,"f":0.35},{"w":4842,"f":0.5},{"w":4844,"f":0.3},{"w":4846,"f":0.55},{"w":4848,"f":0.42},{"w":4850,"f":0.6},{"w":4852,"f":0.38},{"w":4854,"f":0.55},{"w":4856,"f":0.45},{"w":4858,"f":0.6},{"w":4860,"f":0.65},{"w":4862,"f":0.72},{"w":4864,"f":0.78},{"w":4866,"f":0.68},{"w":4868,"f":0.55},{"w":4870,"f":0.35},{"w":4872,"f":0.15},{"w":4874,"f":0.42},{"w":4876,"f":0.3},{"w":4878,"f":0.55},{"w":4880,"f":0.35},{"w":4882,"f":0.5},{"w":4884,"f":0.62},{"w":4886,"f":0.4},{"w":4888,"f":0.58},{"w":4890,"f":0.7},{"w":4892,"f":0.45},{"w":4894,"f":0.62},{"w":4896,"f":0.38},{"w":4898,"f":0.55},{"w":4900,"f":0.42},{"w":4902,"f":0.6},{"w":4904,"f":0.35},{"w":4906,"f":0.5},{"w":4908,"f":0.42},{"w":4910,"f":0.55},{"w":4912,"f":0.38},{"w":4914,"f":0.48},{"w":4916,"f":0.35},{"w":4918,"f":0.5},{"w":4920,"f":0.4},{"w":4922,"f":0.3},{"w":4924,"f":0.45},{"w":4926,"f":0.35},{"w":4928,"f":0.42},{"w":4930,"f":0.3},{"w":4932,"f":0.4},{"w":4934,"f":0.28},{"w":4936,"f":0.38},{"w":4938,"f":0.3},{"w":4940,"f":0.4},{"w":4942,"f":0.28},{"w":4944,"f":0.35},{"w":4946,"f":0.25},{"w":4948,"f":0.32},{"w":4950,"f":0.22},{"w":4952,"f":0.3},{"w":4954,"f":0.2},{"w":4956,"f":0.45},{"w":4958,"f":0.9},{"w":4960,"f":1.3},{"w":4962,"f":0.95},{"w":4964,"f":0.65},{"w":4966,"f":0.85},{"w":4968,"f":0.5},{"w":4970,"f":0.62},{"w":4972,"f":0.4},{"w":4974,"f":0.55},{"w":4976,"f":0.35},{"w":4978,"f":0.45},{"w":4980,"f":0.3},{"w":4982,"f":0.4},{"w":4984,"f":0.25},{"w":4986,"f":0.35},{"w":4988,"f":0.3},{"w":4990,"f":0.45},{"w":4992,"f":0.35},{"w":4994,"f":0.5},{"w":4996,"f":0.42},{"w":4998,"f":0.6},{"w":5000,"f":0.55},{"w":5002,"f":0.8},{"w":5004,"f":1.2},{"w":5006,"f":2.0},{"w":5007,"f":2.5},{"w":5008,"f":2.3},{"w":5009,"f":1.6},{"w":5010,"f":0.0},{"w":5011,"f":1.2},{"w":5012,"f":1.0},{"w":5014,"f":0.6},{"w":5016,"f":0.85},{"w":5018,"f":0.5},{"w":5020,"f":0.7},{"w":5022,"f":0.45},{"w":5024,"f":0.6},{"w":5026,"f":0.3},{"w":5028,"f":0.5},{"w":5030,"f":0.35},{"w":5032,"f":0.55},{"w":5034,"f":0.4},{"w":5036,"f":0.28},{"w":5038,"f":0.45},{"w":5040,"f":0.35},{"w":5042,"f":0.5},{"w":5044,"f":0.3},{"w":5046,"f":0.42},{"w":5048,"f":0.25},{"w":5050,"f":0.4},{"w":5052,"f":0.3},{"w":5054,"f":0.45},{"w":5056,"f":0.28},{"w":5058,"f":0.4},{"w":5060,"f":0.32},{"w":5062,"f":0.5},{"w":5064,"f":0.35},{"w":5066,"f":0.45},{"w":5068,"f":0.3},{"w":5070,"f":0.42},{"w":5072,"f":0.35},{"w":5074,"f":0.5},{"w":5076,"f":0.3},{"w":5078,"f":0.45},{"w":5080,"f":0.38},{"w":5082,"f":0.55},{"w":5084,"f":0.35},{"w":5086,"f":0.48},{"w":5088,"f":0.3},{"w":5090,"f":0.52},{"w":5092,"f":0.4},{"w":5094,"f":0.6},{"w":5096,"f":0.38},{"w":5098,"f":0.55},{"w":5100,"f":0.45}],
    "c3c": [{"w":4800,"f":0.06},{"w":4804,"f":0.03},{"w":4808,"f":0.08},{"w":4812,"f":0.04},{"w":4816,"f":0.07},{"w":4820,"f":0.02},{"w":4824,"f":0.05},{"w":4828,"f":0.08},{"w":4832,"f":0.03},{"w":4836,"f":0.06},{"w":4840,"f":0.04},{"w":4844,"f":0.07},{"w":4848,"f":0.03},{"w":4852,"f":0.06},{"w":4856,"f":0.1},{"w":4859,"f":0.18},{"w":4861,"f":0.28},{"w":4863,"f":0.32},{"w":4865,"f":0.22},{"w":4867,"f":0.12},{"w":4870,"f":0.06},{"w":4874,"f":0.08},{"w":4878,"f":0.03},{"w":4882,"f":0.06},{"w":4886,"f":0.02},{"w":4890,"f":0.05},{"w":4894,"f":0.07},{"w":4898,"f":0.03},{"w":4902,"f":0.05},{"w":4906,"f":0.08},{"w":4910,"f":0.04},{"w":4914,"f":0.06},{"w":4918,"f":0.02},{"w":4922,"f":0.05},{"w":4926,"f":0.07},{"w":4930,"f":0.03},{"w":4934,"f":0.06},{"w":4938,"f":0.04},{"w":4942,"f":0.07},{"w":4946,"f":0.05},{"w":4950,"f":0.08},{"w":4953,"f":0.12},{"w":4955,"f":0.3},{"w":4957,"f":0.9},{"w":4959,"f":1.8},{"w":4960,"f":2.05},{"w":4961,"f":1.7},{"w":4963,"f":0.8},{"w":4965,"f":0.2},{"w":4967,"f":0.08},{"w":4970,"f":0.05},{"w":4974,"f":0.07},{"w":4978,"f":0.03},{"w":4982,"f":0.06},{"w":4986,"f":0.04},{"w":4990,"f":0.07},{"w":4994,"f":0.05},{"w":4998,"f":0.08},{"w":5001,"f":0.15},{"w":5003,"f":0.5},{"w":5005,"f":1.8},{"w":5006,"f":3.5},{"w":5007,"f":5.2},{"w":5008,"f":5.9},{"w":5009,"f":4.8},{"w":5010,"f":2.5},{"w":5012,"f":0.8},{"w":5014,"f":0.2},{"w":5016,"f":0.08},{"w":5020,"f":0.05},{"w":5024,"f":0.07},{"w":5028,"f":0.03},{"w":5032,"f":0.06},{"w":5036,"f":0.04},{"w":5040,"f":0.07},{"w":5044,"f":0.03},{"w":5048,"f":0.05},{"w":5052,"f":0.08},{"w":5056,"f":0.04},{"w":5060,"f":0.06},{"w":5064,"f":0.03},{"w":5068,"f":0.05},{"w":5072,"f":0.07},{"w":5076,"f":0.04},{"w":5080,"f":0.06},{"w":5084,"f":0.03},{"w":5088,"f":0.05},{"w":5092,"f":0.07},{"w":5096,"f":0.04},{"w":5100,"f":0.06}],
    "c3d": [{"w":4800,"f":0.06},{"w":4804,"f":0.02},{"w":4808,"f":0.08},{"w":4812,"f":0.04},{"w":4816,"f":0.1},{"w":4820,"f":0.03},{"w":4824,"f":0.07},{"w":4828,"f":0.02},{"w":4832,"f":0.06},{"w":4836,"f":0.09},{"w":4840,"f":0.03},{"w":4844,"f":0.07},{"w":4848,"f":0.04},{"w":4852,"f":0.08},{"w":4856,"f":0.05},{"w":4859,"f":0.12},{"w":4861,"f":0.2},{"w":4863,"f":0.22},{"w":4865,"f":0.14},{"w":4867,"f":0.06},{"w":4870,"f":0.02},{"w":4874,"f":0.05},{"w":4878,"f":0.0},{"w":4882,"f":0.03},{"w":4886,"f":0.06},{"w":4890,"f":0.02},{"w":4894,"f":0.05},{"w":4898,"f":0.08},{"w":4902,"f":0.03},{"w":4906,"f":0.06},{"w":4910,"f":0.02},{"w":4914,"f":0.05},{"w":4918,"f":0.08},{"w":4922,"f":0.03},{"w":4926,"f":0.06},{"w":4930,"f":0.02},{"w":4934,"f":0.05},{"w":4938,"f":0.07},{"w":4942,"f":0.03},{"w":4946,"f":0.06},{"w":4950,"f":0.04},{"w":4953,"f":0.1},{"w":4955,"f":0.2},{"w":4957,"f":0.4},{"w":4959,"f":0.55},{"w":4961,"f":0.45},{"w":4963,"f":0.2},{"w":4965,"f":0.08},{"w":4968,"f":0.03},{"w":4972,"f":0.06},{"w":4976,"f":0.02},{"w":4980,"f":0.05},{"w":4984,"f":0.08},{"w":4988,"f":0.03},{"w":4992,"f":0.06},{"w":4996,"f":0.04},{"w":5000,"f":0.08},{"w":5002,"f":0.15},{"w":5004,"f":0.4},{"w":5006,"f":1.0},{"w":5007,"f":1.45},{"w":5008,"f":1.6},{"w":5009,"f":1.3},{"w":5010,"f":0.8},{"w":5012,"f":0.3},{"w":5014,"f":0.08},{"w":5016,"f":0.03},{"w":5020,"f":0.05},{"w":5024,"f":0.02},{"w":5028,"f":0.04},{"w":5032,"f":0.03},{"w":5036,"f":0.05},{"w":5040,"f":0.02},{"w":5044,"f":0.04},{"w":5048,"f":0.03},{"w":5052,"f":0.05},{"w":5056,"f":0.02},{"w":5060,"f":0.04},{"w":5064,"f":0.03},{"w":5068,"f":0.05},{"w":5072,"f":0.02},{"w":5076,"f":0.04},{"w":5080,"f":0.03},{"w":5084,"f":0.05},{"w":5088,"f":0.02},{"w":5092,"f":0.04},{"w":5096,"f":0.03},{"w":5100,"f":0.05}]
  },
  "hconcat": [
    {
      "vconcat": [
        {"width": 155, "height": 120, "data": {"name": "c1i"}, "resolve": {"axis": {"x": "independent", "y": "independent"}},
         "layer": [
          {"mark": {"type": "line", "color": "black", "strokeWidth": 1, "clip": true}, "encoding": {"x": {"field": "w", "type": "quantitative", "scale": {"domain": [4800, 5100], "nice": false, "zero": false}, "axis": {"orient": "bottom", "values": [4800, 4900, 5000, 5100], "tickSize": -7, "labels": false, "title": null}}, "y": {"field": "f", "type": "quantitative", "scale": {"domain": [-0.45, 7], "nice": false, "zero": false}, "axis": {"orient": "left", "values": [0, 2, 4, 6], "tickSize": -7, "title": null}}}},
          {"mark": {"type": "line", "opacity": 0}, "encoding": {"x": {"field": "w", "type": "quantitative", "axis": {"orient": "bottom", "values": [4820, 4840, 4860, 4880, 4920, 4940, 4960, 4980, 5020, 5040, 5060, 5080], "tickSize": -3.5, "labels": false, "title": null}}, "y": {"field": "f", "type": "quantitative", "axis": {"orient": "left", "values": [0.5, 1, 1.5, 2.5, 3, 3.5, 4.5, 5, 5.5, 6.5], "tickSize": -3.5, "labels": false, "title": null}}}},
          {"mark": {"type": "line", "opacity": 0}, "encoding": {"x": {"field": "w", "type": "quantitative", "axis": {"orient": "top", "values": [4800, 4900, 5000, 5100], "tickSize": -7, "labels": false, "title": null}}, "y": {"field": "f", "type": "quantitative", "axis": {"orient": "right", "values": [0, 2, 4, 6], "tickSize": -7, "labels": false, "title": null}}}},
          {"mark": {"type": "line", "opacity": 0}, "encoding": {"x": {"field": "w", "type": "quantitative", "axis": {"orient": "top", "values": [4820, 4840, 4860, 4880, 4920, 4940, 4960, 4980, 5020, 5040, 5060, 5080], "tickSize": -3.5, "labels": false, "title": null}}, "y": {"field": "f", "type": "quantitative", "axis": {"orient": "right", "values": [0.5, 1, 1.5, 2.5, 3, 3.5, 4.5, 5, 5.5, 6.5], "tickSize": -3.5, "labels": false, "title": null}}}},
          {"data": {"values": [{"t": "HE0450-2958"}]}, "mark": {"type": "text", "font": "DejaVu Serif", "fontSize": 11, "color": "#111"}, "encoding": {"x": {"datum": 4955, "type": "quantitative", "axis": null}, "y": {"datum": 5.75, "type": "quantitative", "axis": null}, "text": {"field": "t"}}},
          {"data": {"values": [{"t": "Integrated"}]}, "mark": {"type": "text", "font": "DejaVu Serif", "fontSize": 11, "color": "#111"}, "encoding": {"x": {"datum": 4957, "type": "quantitative", "axis": null}, "y": {"datum": 4.25, "type": "quantitative", "axis": null}, "text": {"field": "t"}}}
         ]},
        {"width": 155, "height": 120, "data": {"name": "c1a"}, "resolve": {"axis": {"x": "independent", "y": "independent"}},
         "layer": [
          {"mark": {"type": "line", "color": "black", "strokeWidth": 1, "clip": true}, "encoding": {"x": {"field": "w", "type": "quantitative", "scale": {"domain": [4800, 5100], "nice": false, "zero": false}, "axis": {"orient": "bottom", "values": [4800, 4900, 5000, 5100], "tickSize": -7, "labels": false, "title": null}}, "y": {"field": "f", "type": "quantitative", "scale": {"domain": [-0.45, 7], "nice": false, "zero": false}, "axis": {"orient": "left", "values": [0, 2, 4, 6], "tickSize": -7, "title": null}}}},
          {"mark": {"type": "line", "opacity": 0}, "encoding": {"x": {"field": "w", "type": "quantitative", "axis": {"orient": "bottom", "values": [4820, 4840, 4860, 4880, 4920, 4940, 4960, 4980, 5020, 5040, 5060, 5080], "tickSize": -3.5, "labels": false, "title": null}}, "y": {"field": "f", "type": "quantitative", "axis": {"orient": "left", "values": [0.5, 1, 1.5, 2.5, 3, 3.5, 4.5, 5, 5.5, 6.5], "tickSize": -3.5, "labels": false, "title": null}}}},
          {"mark": {"type": "line", "opacity": 0}, "encoding": {"x": {"field": "w", "type": "quantitative", "axis": {"orient": "top", "values": [4800, 4900, 5000, 5100], "tickSize": -7, "labels": false, "title": null}}, "y": {"field": "f", "type": "quantitative", "axis": {"orient": "right", "values": [0, 2, 4, 6], "tickSize": -7, "labels": false, "title": null}}}},
          {"mark": {"type": "line", "opacity": 0}, "encoding": {"x": {"field": "w", "type": "quantitative", "axis": {"orient": "top", "values": [4820, 4840, 4860, 4880, 4920, 4940, 4960, 4980, 5020, 5040, 5060, 5080], "tickSize": -3.5, "labels": false, "title": null}}, "y": {"field": "f", "type": "quantitative", "axis": {"orient": "right", "values": [0.5, 1, 1.5, 2.5, 3, 3.5, 4.5, 5, 5.5, 6.5], "tickSize": -3.5, "labels": false, "title": null}}}},
          {"data": {"values": [{"t": "A"}]}, "mark": {"type": "text", "font": "DejaVu Serif", "fontSize": 11, "color": "#111"}, "encoding": {"x": {"datum": 4906, "type": "quantitative", "axis": null}, "y": {"datum": 4.0, "type": "quantitative", "axis": null}, "text": {"field": "t"}}}
         ]},
        {"width": 155, "height": 120, "data": {"name": "c1b"}, "resolve": {"axis": {"x": "independent", "y": "independent"}},
         "layer": [
          {"mark": {"type": "line", "color": "black", "strokeWidth": 1, "clip": true}, "encoding": {"x": {"field": "w", "type": "quantitative", "scale": {"domain": [4800, 5100], "nice": false, "zero": false}, "axis": {"orient": "bottom", "values": [4800, 4900, 5000, 5100], "tickSize": -7, "labels": false, "title": null}}, "y": {"field": "f", "type": "quantitative", "scale": {"domain": [-0.45, 7], "nice": false, "zero": false}, "axis": {"orient": "left", "values": [0, 2, 4, 6], "tickSize": -7, "title": "Normalized flux", "titleX": -25, "titleY": 57, "titleAngle": -90, "titleAlign": "center", "titleBaseline": "alphabetic"}}}},
          {"mark": {"type": "line", "opacity": 0}, "encoding": {"x": {"field": "w", "type": "quantitative", "axis": {"orient": "bottom", "values": [4820, 4840, 4860, 4880, 4920, 4940, 4960, 4980, 5020, 5040, 5060, 5080], "tickSize": -3.5, "labels": false, "title": null}}, "y": {"field": "f", "type": "quantitative", "axis": {"orient": "left", "values": [0.5, 1, 1.5, 2.5, 3, 3.5, 4.5, 5, 5.5, 6.5], "tickSize": -3.5, "labels": false, "title": null}}}},
          {"mark": {"type": "line", "opacity": 0}, "encoding": {"x": {"field": "w", "type": "quantitative", "axis": {"orient": "top", "values": [4800, 4900, 5000, 5100], "tickSize": -7, "labels": false, "title": null}}, "y": {"field": "f", "type": "quantitative", "axis": {"orient": "right", "values": [0, 2, 4, 6], "tickSize": -7, "labels": false, "title": null}}}},
          {"mark": {"type": "line", "opacity": 0}, "encoding": {"x": {"field": "w", "type": "quantitative", "axis": {"orient": "top", "values": [4820, 4840, 4860, 4880, 4920, 4940, 4960, 4980, 5020, 5040, 5060, 5080], "tickSize": -3.5, "labels": false, "title": null}}, "y": {"field": "f", "type": "quantitative", "axis": {"orient": "right", "values": [0.5, 1, 1.5, 2.5, 3, 3.5, 4.5, 5, 5.5, 6.5], "tickSize": -3.5, "labels": false, "title": null}}}},
          {"data": {"values": [{"t": "B"}]}, "mark": {"type": "text", "font": "DejaVu Serif", "fontSize": 11, "color": "#111"}, "encoding": {"x": {"datum": 4906, "type": "quantitative", "axis": null}, "y": {"datum": 4.0, "type": "quantitative", "axis": null}, "text": {"field": "t"}}}
         ]},
        {"width": 155, "height": 120, "data": {"name": "c1c"}, "resolve": {"axis": {"x": "independent", "y": "independent"}},
         "layer": [
          {"mark": {"type": "line", "color": "black", "strokeWidth": 1, "clip": true}, "encoding": {"x": {"field": "w", "type": "quantitative", "scale": {"domain": [4800, 5100], "nice": false, "zero": false}, "axis": {"orient": "bottom", "values": [4800, 4900, 5000, 5100], "tickSize": -7, "labels": false, "title": null}}, "y": {"field": "f", "type": "quantitative", "scale": {"domain": [-0.45, 7], "nice": false, "zero": false}, "axis": {"orient": "left", "values": [0, 2, 4, 6], "tickSize": -7, "title": null}}}},
          {"mark": {"type": "line", "opacity": 0}, "encoding": {"x": {"field": "w", "type": "quantitative", "axis": {"orient": "bottom", "values": [4820, 4840, 4860, 4880, 4920, 4940, 4960, 4980, 5020, 5040, 5060, 5080], "tickSize": -3.5, "labels": false, "title": null}}, "y": {"field": "f", "type": "quantitative", "axis": {"orient": "left", "values": [0.5, 1, 1.5, 2.5, 3, 3.5, 4.5, 5, 5.5, 6.5], "tickSize": -3.5, "labels": false, "title": null}}}},
          {"mark": {"type": "line", "opacity": 0}, "encoding": {"x": {"field": "w", "type": "quantitative", "axis": {"orient": "top", "values": [4800, 4900, 5000, 5100], "tickSize": -7, "labels": false, "title": null}}, "y": {"field": "f", "type": "quantitative", "axis": {"orient": "right", "values": [0, 2, 4, 6], "tickSize": -7, "labels": false, "title": null}}}},
          {"mark": {"type": "line", "opacity": 0}, "encoding": {"x": {"field": "w", "type": "quantitative", "axis": {"orient": "top", "values": [4820, 4840, 4860, 4880, 4920, 4940, 4960, 4980, 5020, 5040, 5060, 5080], "tickSize": -3.5, "labels": false, "title": null}}, "y": {"field": "f", "type": "quantitative", "axis": {"orient": "right", "values": [0.5, 1, 1.5, 2.5, 3, 3.5, 4.5, 5, 5.5, 6.5], "tickSize": -3.5, "labels": false, "title": null}}}},
          {"data": {"values": [{"t": "C"}]}, "mark": {"type": "text", "font": "DejaVu Serif", "fontSize": 11, "color": "#111"}, "encoding": {"x": {"datum": 4906, "type": "quantitative", "axis": null}, "y": {"datum": 4.0, "type": "quantitative", "axis": null}, "text": {"field": "t"}}}
         ]},
        {"width": 155, "height": 120, "data": {"name": "c1d"}, "resolve": {"axis": {"x": "independent", "y": "independent"}},
         "layer": [
          {"mark": {"type": "line", "color": "black", "strokeWidth": 1, "clip": true}, "encoding": {"x": {"field": "w", "type": "quantitative", "scale": {"domain": [4800, 5100], "nice": false, "zero": false}, "axis": {"orient": "bottom", "values": [4800, 4900, 5000, 5100], "format": "d", "tickSize": -7, "title": null}}, "y": {"field": "f", "type": "quantitative", "scale": {"domain": [-0.45, 7], "nice": false, "zero": false}, "axis": {"orient": "left", "values": [0, 2, 4, 6], "tickSize": -7, "title": null}}}},
          {"mark": {"type": "line", "opacity": 0}, "encoding": {"x": {"field": "w", "type": "quantitative", "axis": {"orient": "bottom", "values": [4820, 4840, 4860, 4880, 4920, 4940, 4960, 4980, 5020, 5040, 5060, 5080], "tickSize": -3.5, "labels": false, "title": null}}, "y": {"field": "f", "type": "quantitative", "axis": {"orient": "left", "values": [0.5, 1, 1.5, 2.5, 3, 3.5, 4.5, 5, 5.5, 6.5], "tickSize": -3.5, "labels": false, "title": null}}}},
          {"mark": {"type": "line", "opacity": 0}, "encoding": {"x": {"field": "w", "type": "quantitative", "axis": {"orient": "top", "values": [4800, 4900, 5000, 5100], "tickSize": -7, "labels": false, "title": null}}, "y": {"field": "f", "type": "quantitative", "axis": {"orient": "right", "values": [0, 2, 4, 6], "tickSize": -7, "labels": false, "title": null}}}},
          {"mark": {"type": "line", "opacity": 0}, "encoding": {"x": {"field": "w", "type": "quantitative", "axis": {"orient": "top", "values": [4820, 4840, 4860, 4880, 4920, 4940, 4960, 4980, 5020, 5040, 5060, 5080], "tickSize": -3.5, "labels": false, "title": null}}, "y": {"field": "f", "type": "quantitative", "axis": {"orient": "right", "values": [0.5, 1, 1.5, 2.5, 3, 3.5, 4.5, 5, 5.5, 6.5], "tickSize": -3.5, "labels": false, "title": null}}}},
          {"data": {"values": [{"t": "D"}]}, "mark": {"type": "text", "font": "DejaVu Serif", "fontSize": 11, "color": "#111"}, "encoding": {"x": {"datum": 4906, "type": "quantitative", "axis": null}, "y": {"datum": 4.0, "type": "quantitative", "axis": null}, "text": {"field": "t"}}}
         ]}
      ],
      "spacing": 0, "bounds": "flush"
    },
    {
      "hconcat": [
        {
          "vconcat": [
            {"width": 155, "height": 99, "data": {"name": "c2i"}, "resolve": {"axis": {"x": "independent", "y": "independent"}},
             "layer": [
              {"mark": {"type": "line", "color": "black", "strokeWidth": 1, "clip": true}, "encoding": {"x": {"field": "w", "type": "quantitative", "scale": {"domain": [4800, 5100], "nice": false, "zero": false}, "axis": {"orient": "bottom", "values": [4800, 4900, 5000, 5100], "tickSize": -7, "labels": false, "title": null}}, "y": {"field": "f", "type": "quantitative", "scale": {"domain": [0, 1.6], "nice": false, "zero": false}, "axis": {"orient": "left", "values": [0, 0.5, 1, 1.5], "tickSize": -7, "title": null}}}},
              {"mark": {"type": "line", "opacity": 0}, "encoding": {"x": {"field": "w", "type": "quantitative", "axis": {"orient": "bottom", "values": [4820, 4840, 4860, 4880, 4920, 4940, 4960, 4980, 5020, 5040, 5060, 5080], "tickSize": -3.5, "labels": false, "title": null}}, "y": {"field": "f", "type": "quantitative", "axis": {"orient": "left", "values": [0.1, 0.2, 0.3, 0.4, 0.6, 0.7, 0.8, 0.9, 1.1, 1.2, 1.3, 1.4], "tickSize": -3.5, "labels": false, "title": null}}}},
              {"mark": {"type": "line", "opacity": 0}, "encoding": {"x": {"field": "w", "type": "quantitative", "axis": {"orient": "top", "values": [4800, 4900, 5000, 5100], "tickSize": -7, "labels": false, "title": null}}, "y": {"field": "f", "type": "quantitative", "axis": {"orient": "right", "values": [0, 0.5, 1, 1.5], "tickSize": -7, "labels": false, "title": null}}}},
              {"mark": {"type": "line", "opacity": 0}, "encoding": {"x": {"field": "w", "type": "quantitative", "axis": {"orient": "top", "values": [4820, 4840, 4860, 4880, 4920, 4940, 4960, 4980, 5020, 5040, 5060, 5080], "tickSize": -3.5, "labels": false, "title": null}}, "y": {"field": "f", "type": "quantitative", "axis": {"orient": "right", "values": [0.1, 0.2, 0.3, 0.4, 0.6, 0.7, 0.8, 0.9, 1.1, 1.2, 1.3, 1.4], "tickSize": -3.5, "labels": false, "title": null}}}},
              {"data": {"values": [{"t": "HE0354-5500"}]}, "mark": {"type": "text", "font": "DejaVu Serif", "fontSize": 11, "color": "#111"}, "encoding": {"x": {"datum": 4949, "type": "quantitative", "axis": null}, "y": {"datum": 1.42, "type": "quantitative", "axis": null}, "text": {"field": "t"}}},
              {"data": {"values": [{"t": "Integrated"}]}, "mark": {"type": "text", "font": "DejaVu Serif", "fontSize": 11, "color": "#111"}, "encoding": {"x": {"datum": 4926, "type": "quantitative", "axis": null}, "y": {"datum": 1.13, "type": "quantitative", "axis": null}, "text": {"field": "t"}}}
             ]},
            {"width": 155, "height": 100, "data": {"name": "c2a"}, "resolve": {"axis": {"x": "independent", "y": "independent"}},
             "layer": [
              {"mark": {"type": "line", "color": "black", "strokeWidth": 1, "clip": true}, "encoding": {"x": {"field": "w", "type": "quantitative", "scale": {"domain": [4800, 5100], "nice": false, "zero": false}, "axis": {"orient": "bottom", "values": [4800, 4900, 5000, 5100], "tickSize": -7, "labels": false, "title": null}}, "y": {"field": "f", "type": "quantitative", "scale": {"domain": [0, 1.45], "nice": false, "zero": false}, "axis": {"orient": "left", "values": [0, 0.5, 1], "tickSize": -7, "title": null}}}},
              {"mark": {"type": "line", "opacity": 0}, "encoding": {"x": {"field": "w", "type": "quantitative", "axis": {"orient": "bottom", "values": [4820, 4840, 4860, 4880, 4920, 4940, 4960, 4980, 5020, 5040, 5060, 5080], "tickSize": -3.5, "labels": false, "title": null}}, "y": {"field": "f", "type": "quantitative", "axis": {"orient": "left", "values": [0.1, 0.2, 0.3, 0.4, 0.6, 0.7, 0.8, 0.9, 1.1, 1.2, 1.3, 1.4], "tickSize": -3.5, "labels": false, "title": null}}}},
              {"mark": {"type": "line", "opacity": 0}, "encoding": {"x": {"field": "w", "type": "quantitative", "axis": {"orient": "top", "values": [4800, 4900, 5000, 5100], "tickSize": -7, "labels": false, "title": null}}, "y": {"field": "f", "type": "quantitative", "axis": {"orient": "right", "values": [0, 0.5, 1], "tickSize": -7, "labels": false, "title": null}}}},
              {"mark": {"type": "line", "opacity": 0}, "encoding": {"x": {"field": "w", "type": "quantitative", "axis": {"orient": "top", "values": [4820, 4840, 4860, 4880, 4920, 4940, 4960, 4980, 5020, 5040, 5060, 5080], "tickSize": -3.5, "labels": false, "title": null}}, "y": {"field": "f", "type": "quantitative", "axis": {"orient": "right", "values": [0.1, 0.2, 0.3, 0.4, 0.6, 0.7, 0.8, 0.9, 1.1, 1.2, 1.3, 1.4], "tickSize": -3.5, "labels": false, "title": null}}}},
              {"data": {"values": [{"t": "A"}]}, "mark": {"type": "text", "font": "DejaVu Serif", "fontSize": 11, "color": "#111"}, "encoding": {"x": {"datum": 4874, "type": "quantitative", "axis": null}, "y": {"datum": 1.1, "type": "quantitative", "axis": null}, "text": {"field": "t"}}}
             ]},
            {"width": 155, "height": 100, "data": {"name": "c2b"}, "resolve": {"axis": {"x": "independent", "y": "independent"}},
             "layer": [
              {"mark": {"type": "line", "color": "black", "strokeWidth": 1, "clip": true}, "encoding": {"x": {"field": "w", "type": "quantitative", "scale": {"domain": [4800, 5100], "nice": false, "zero": false}, "axis": {"orient": "bottom", "values": [4800, 4900, 5000, 5100], "tickSize": -7, "labels": false, "title": null}}, "y": {"field": "f", "type": "quantitative", "scale": {"domain": [0, 1.45], "nice": false, "zero": false}, "axis": {"orient": "left", "values": [0, 0.5, 1], "tickSize": -7, "title": null}}}},
              {"mark": {"type": "line", "opacity": 0}, "encoding": {"x": {"field": "w", "type": "quantitative", "axis": {"orient": "bottom", "values": [4820, 4840, 4860, 4880, 4920, 4940, 4960, 4980, 5020, 5040, 5060, 5080], "tickSize": -3.5, "labels": false, "title": null}}, "y": {"field": "f", "type": "quantitative", "axis": {"orient": "left", "values": [0.1, 0.2, 0.3, 0.4, 0.6, 0.7, 0.8, 0.9, 1.1, 1.2, 1.3, 1.4], "tickSize": -3.5, "labels": false, "title": null}}}},
              {"mark": {"type": "line", "opacity": 0}, "encoding": {"x": {"field": "w", "type": "quantitative", "axis": {"orient": "top", "values": [4800, 4900, 5000, 5100], "tickSize": -7, "labels": false, "title": null}}, "y": {"field": "f", "type": "quantitative", "axis": {"orient": "right", "values": [0, 0.5, 1], "tickSize": -7, "labels": false, "title": null}}}},
              {"mark": {"type": "line", "opacity": 0}, "encoding": {"x": {"field": "w", "type": "quantitative", "axis": {"orient": "top", "values": [4820, 4840, 4860, 4880, 4920, 4940, 4960, 4980, 5020, 5040, 5060, 5080], "tickSize": -3.5, "labels": false, "title": null}}, "y": {"field": "f", "type": "quantitative", "axis": {"orient": "right", "values": [0.1, 0.2, 0.3, 0.4, 0.6, 0.7, 0.8, 0.9, 1.1, 1.2, 1.3, 1.4], "tickSize": -3.5, "labels": false, "title": null}}}},
              {"data": {"values": [{"t": "B"}]}, "mark": {"type": "text", "font": "DejaVu Serif", "fontSize": 11, "color": "#111"}, "encoding": {"x": {"datum": 4874, "type": "quantitative", "axis": null}, "y": {"datum": 1.1, "type": "quantitative", "axis": null}, "text": {"field": "t"}}}
             ]},
            {"width": 155, "height": 100, "data": {"name": "c2c"}, "resolve": {"axis": {"x": "independent", "y": "independent"}},
             "layer": [
              {"mark": {"type": "line", "color": "black", "strokeWidth": 1, "clip": true}, "encoding": {"x": {"field": "w", "type": "quantitative", "scale": {"domain": [4800, 5100], "nice": false, "zero": false}, "axis": {"orient": "bottom", "values": [4800, 4900, 5000, 5100], "tickSize": -7, "labels": false, "title": null}}, "y": {"field": "f", "type": "quantitative", "scale": {"domain": [0, 1.45], "nice": false, "zero": false}, "axis": {"orient": "left", "values": [0, 0.5, 1], "tickSize": -7, "title": null}}}},
              {"mark": {"type": "line", "opacity": 0}, "encoding": {"x": {"field": "w", "type": "quantitative", "axis": {"orient": "bottom", "values": [4820, 4840, 4860, 4880, 4920, 4940, 4960, 4980, 5020, 5040, 5060, 5080], "tickSize": -3.5, "labels": false, "title": null}}, "y": {"field": "f", "type": "quantitative", "axis": {"orient": "left", "values": [0.1, 0.2, 0.3, 0.4, 0.6, 0.7, 0.8, 0.9, 1.1, 1.2, 1.3, 1.4], "tickSize": -3.5, "labels": false, "title": null}}}},
              {"mark": {"type": "line", "opacity": 0}, "encoding": {"x": {"field": "w", "type": "quantitative", "axis": {"orient": "top", "values": [4800, 4900, 5000, 5100], "tickSize": -7, "labels": false, "title": null}}, "y": {"field": "f", "type": "quantitative", "axis": {"orient": "right", "values": [0, 0.5, 1], "tickSize": -7, "labels": false, "title": null}}}},
              {"mark": {"type": "line", "opacity": 0}, "encoding": {"x": {"field": "w", "type": "quantitative", "axis": {"orient": "top", "values": [4820, 4840, 4860, 4880, 4920, 4940, 4960, 4980, 5020, 5040, 5060, 5080], "tickSize": -3.5, "labels": false, "title": null}}, "y": {"field": "f", "type": "quantitative", "axis": {"orient": "right", "values": [0.1, 0.2, 0.3, 0.4, 0.6, 0.7, 0.8, 0.9, 1.1, 1.2, 1.3, 1.4], "tickSize": -3.5, "labels": false, "title": null}}}},
              {"data": {"values": [{"t": "C"}]}, "mark": {"type": "text", "font": "DejaVu Serif", "fontSize": 11, "color": "#111"}, "encoding": {"x": {"datum": 4874, "type": "quantitative", "axis": null}, "y": {"datum": 1.1, "type": "quantitative", "axis": null}, "text": {"field": "t"}}}
             ]},
            {"width": 155, "height": 100, "data": {"name": "c2d"}, "resolve": {"axis": {"x": "independent", "y": "independent"}},
             "layer": [
              {"mark": {"type": "line", "color": "black", "strokeWidth": 1, "clip": true}, "encoding": {"x": {"field": "w", "type": "quantitative", "scale": {"domain": [4800, 5100], "nice": false, "zero": false}, "axis": {"orient": "bottom", "values": [4800, 4900, 5000, 5100], "tickSize": -7, "labels": false, "title": null}}, "y": {"field": "f", "type": "quantitative", "scale": {"domain": [0, 1.45], "nice": false, "zero": false}, "axis": {"orient": "left", "values": [0, 0.5, 1], "tickSize": -7, "title": null}}}},
              {"mark": {"type": "line", "opacity": 0}, "encoding": {"x": {"field": "w", "type": "quantitative", "axis": {"orient": "bottom", "values": [4820, 4840, 4860, 4880, 4920, 4940, 4960, 4980, 5020, 5040, 5060, 5080], "tickSize": -3.5, "labels": false, "title": null}}, "y": {"field": "f", "type": "quantitative", "axis": {"orient": "left", "values": [0.1, 0.2, 0.3, 0.4, 0.6, 0.7, 0.8, 0.9, 1.1, 1.2, 1.3, 1.4], "tickSize": -3.5, "labels": false, "title": null}}}},
              {"mark": {"type": "line", "opacity": 0}, "encoding": {"x": {"field": "w", "type": "quantitative", "axis": {"orient": "top", "values": [4800, 4900, 5000, 5100], "tickSize": -7, "labels": false, "title": null}}, "y": {"field": "f", "type": "quantitative", "axis": {"orient": "right", "values": [0, 0.5, 1], "tickSize": -7, "labels": false, "title": null}}}},
              {"mark": {"type": "line", "opacity": 0}, "encoding": {"x": {"field": "w", "type": "quantitative", "axis": {"orient": "top", "values": [4820, 4840, 4860, 4880, 4920, 4940, 4960, 4980, 5020, 5040, 5060, 5080], "tickSize": -3.5, "labels": false, "title": null}}, "y": {"field": "f", "type": "quantitative", "axis": {"orient": "right", "values": [0.1, 0.2, 0.3, 0.4, 0.6, 0.7, 0.8, 0.9, 1.1, 1.2, 1.3, 1.4], "tickSize": -3.5, "labels": false, "title": null}}}},
              {"data": {"values": [{"t": "D"}]}, "mark": {"type": "text", "font": "DejaVu Serif", "fontSize": 11, "color": "#111"}, "encoding": {"x": {"datum": 4874, "type": "quantitative", "axis": null}, "y": {"datum": 1.1, "type": "quantitative", "axis": null}, "text": {"field": "t"}}}
             ]},
            {"width": 155, "height": 100, "data": {"name": "c2e"}, "resolve": {"axis": {"x": "independent", "y": "independent"}},
             "layer": [
              {"mark": {"type": "line", "color": "black", "strokeWidth": 1, "clip": true}, "encoding": {"x": {"field": "w", "type": "quantitative", "scale": {"domain": [4800, 5100], "nice": false, "zero": false}, "axis": {"orient": "bottom", "values": [4800, 4900, 5000, 5100], "format": "d", "tickSize": -7, "title": "restframe wavelength", "titleX": 77.5, "titleY": 51, "titleAlign": "center", "titleBaseline": "alphabetic", "titleAngle": 0}}, "y": {"field": "f", "type": "quantitative", "scale": {"domain": [0, 1.45], "nice": false, "zero": false}, "axis": {"orient": "left", "values": [0, 0.5, 1], "tickSize": -7, "title": null}}}},
              {"mark": {"type": "line", "opacity": 0}, "encoding": {"x": {"field": "w", "type": "quantitative", "axis": {"orient": "bottom", "values": [4820, 4840, 4860, 4880, 4920, 4940, 4960, 4980, 5020, 5040, 5060, 5080], "tickSize": -3.5, "labels": false, "title": null}}, "y": {"field": "f", "type": "quantitative", "axis": {"orient": "left", "values": [0.1, 0.2, 0.3, 0.4, 0.6, 0.7, 0.8, 0.9, 1.1, 1.2, 1.3, 1.4], "tickSize": -3.5, "labels": false, "title": null}}}},
              {"mark": {"type": "line", "opacity": 0}, "encoding": {"x": {"field": "w", "type": "quantitative", "axis": {"orient": "top", "values": [4800, 4900, 5000, 5100], "tickSize": -7, "labels": false, "title": null}}, "y": {"field": "f", "type": "quantitative", "axis": {"orient": "right", "values": [0, 0.5, 1], "tickSize": -7, "labels": false, "title": null}}}},
              {"mark": {"type": "line", "opacity": 0}, "encoding": {"x": {"field": "w", "type": "quantitative", "axis": {"orient": "top", "values": [4820, 4840, 4860, 4880, 4920, 4940, 4960, 4980, 5020, 5040, 5060, 5080], "tickSize": -3.5, "labels": false, "title": null}}, "y": {"field": "f", "type": "quantitative", "axis": {"orient": "right", "values": [0.1, 0.2, 0.3, 0.4, 0.6, 0.7, 0.8, 0.9, 1.1, 1.2, 1.3, 1.4], "tickSize": -3.5, "labels": false, "title": null}}}},
              {"data": {"values": [{"t": "E"}]}, "mark": {"type": "text", "font": "DejaVu Serif", "fontSize": 11, "color": "#111"}, "encoding": {"x": {"datum": 4874, "type": "quantitative", "axis": null}, "y": {"datum": 1.1, "type": "quantitative", "axis": null}, "text": {"field": "t"}}}
             ]}
          ],
          "spacing": 0, "bounds": "flush"
        },
        {
          "vconcat": [
            {"width": 155, "height": 120, "data": {"name": "c3i"}, "resolve": {"axis": {"x": "independent", "y": "independent"}},
             "layer": [
              {"mark": {"type": "line", "color": "black", "strokeWidth": 1, "clip": true}, "encoding": {"x": {"field": "w", "type": "quantitative", "scale": {"domain": [4800, 5100], "nice": false, "zero": false}, "axis": {"orient": "bottom", "values": [4800, 4900, 5000, 5100], "tickSize": -7, "labels": false, "title": null}}, "y": {"field": "f", "type": "quantitative", "scale": {"domain": [-1, 9.6], "nice": false, "zero": false}, "axis": {"orient": "left", "values": [0, 2, 4, 6, 8], "tickSize": -7, "title": null}}}},
              {"mark": {"type": "line", "opacity": 0}, "encoding": {"x": {"field": "w", "type": "quantitative", "axis": {"orient": "bottom", "values": [4820, 4840, 4860, 4880, 4920, 4940, 4960, 4980, 5020, 5040, 5060, 5080], "tickSize": -3.5, "labels": false, "title": null}}, "y": {"field": "f", "type": "quantitative", "axis": {"orient": "left", "values": [1, 3, 5, 7, 9], "tickSize": -3.5, "labels": false, "title": null}}}},
              {"mark": {"type": "line", "opacity": 0}, "encoding": {"x": {"field": "w", "type": "quantitative", "axis": {"orient": "top", "values": [4800, 4900, 5000, 5100], "tickSize": -7, "labels": false, "title": null}}, "y": {"field": "f", "type": "quantitative", "axis": {"orient": "right", "values": [0, 2, 4, 6, 8], "tickSize": -7, "labels": false, "title": null}}}},
              {"mark": {"type": "line", "opacity": 0}, "encoding": {"x": {"field": "w", "type": "quantitative", "axis": {"orient": "top", "values": [4820, 4840, 4860, 4880, 4920, 4940, 4960, 4980, 5020, 5040, 5060, 5080], "tickSize": -3.5, "labels": false, "title": null}}, "y": {"field": "f", "type": "quantitative", "axis": {"orient": "right", "values": [1, 3, 5, 7, 9], "tickSize": -3.5, "labels": false, "title": null}}}},
              {"data": {"values": [{"t": "HE1434-1600"}]}, "mark": {"type": "text", "font": "DejaVu Serif", "fontSize": 11, "color": "#111"}, "encoding": {"x": {"datum": 4958, "type": "quantitative", "axis": null}, "y": {"datum": 8.0, "type": "quantitative", "axis": null}, "text": {"field": "t"}}},
              {"data": {"values": [{"t": "Integrated"}]}, "mark": {"type": "text", "font": "DejaVu Serif", "fontSize": 11, "color": "#111"}, "encoding": {"x": {"datum": 4927, "type": "quantitative", "axis": null}, "y": {"datum": 6.05, "type": "quantitative", "axis": null}, "text": {"field": "t"}}}
             ]},
            {"width": 155, "height": 120, "data": {"name": "c3a"}, "resolve": {"axis": {"x": "independent", "y": "independent"}},
             "layer": [
              {"mark": {"type": "line", "color": "black", "strokeWidth": 1, "clip": true}, "encoding": {"x": {"field": "w", "type": "quantitative", "scale": {"domain": [4800, 5100], "nice": false, "zero": false}, "axis": {"orient": "bottom", "values": [4800, 4900, 5000, 5100], "tickSize": -7, "labels": false, "title": null}}, "y": {"field": "f", "type": "quantitative", "scale": {"domain": [-1, 9.6], "nice": false, "zero": false}, "axis": {"orient": "left", "values": [0, 2, 4, 6, 8], "tickSize": -7, "title": null}}}},
              {"mark": {"type": "line", "opacity": 0}, "encoding": {"x": {"field": "w", "type": "quantitative", "axis": {"orient": "bottom", "values": [4820, 4840, 4860, 4880, 4920, 4940, 4960, 4980, 5020, 5040, 5060, 5080], "tickSize": -3.5, "labels": false, "title": null}}, "y": {"field": "f", "type": "quantitative", "axis": {"orient": "left", "values": [1, 3, 5, 7, 9], "tickSize": -3.5, "labels": false, "title": null}}}},
              {"mark": {"type": "line", "opacity": 0}, "encoding": {"x": {"field": "w", "type": "quantitative", "axis": {"orient": "top", "values": [4800, 4900, 5000, 5100], "tickSize": -7, "labels": false, "title": null}}, "y": {"field": "f", "type": "quantitative", "axis": {"orient": "right", "values": [0, 2, 4, 6, 8], "tickSize": -7, "labels": false, "title": null}}}},
              {"mark": {"type": "line", "opacity": 0}, "encoding": {"x": {"field": "w", "type": "quantitative", "axis": {"orient": "top", "values": [4820, 4840, 4860, 4880, 4920, 4940, 4960, 4980, 5020, 5040, 5060, 5080], "tickSize": -3.5, "labels": false, "title": null}}, "y": {"field": "f", "type": "quantitative", "axis": {"orient": "right", "values": [1, 3, 5, 7, 9], "tickSize": -3.5, "labels": false, "title": null}}}},
              {"data": {"values": [{"t": "A"}]}, "mark": {"type": "text", "font": "DejaVu Serif", "fontSize": 11, "color": "#111"}, "encoding": {"x": {"datum": 4877, "type": "quantitative", "axis": null}, "y": {"datum": 6.0, "type": "quantitative", "axis": null}, "text": {"field": "t"}}}
             ]},
            {"width": 155, "height": 120, "data": {"name": "c3b"}, "resolve": {"axis": {"x": "independent", "y": "independent"}},
             "layer": [
              {"mark": {"type": "line", "color": "black", "strokeWidth": 1, "clip": true}, "encoding": {"x": {"field": "w", "type": "quantitative", "scale": {"domain": [4800, 5100], "nice": false, "zero": false}, "axis": {"orient": "bottom", "values": [4800, 4900, 5000, 5100], "tickSize": -7, "labels": false, "title": null}}, "y": {"field": "f", "type": "quantitative", "scale": {"domain": [-1, 9.6], "nice": false, "zero": false}, "axis": {"orient": "left", "values": [0, 2, 4, 6, 8], "tickSize": -7, "title": null}}}},
              {"mark": {"type": "line", "opacity": 0}, "encoding": {"x": {"field": "w", "type": "quantitative", "axis": {"orient": "bottom", "values": [4820, 4840, 4860, 4880, 4920, 4940, 4960, 4980, 5020, 5040, 5060, 5080], "tickSize": -3.5, "labels": false, "title": null}}, "y": {"field": "f", "type": "quantitative", "axis": {"orient": "left", "values": [1, 3, 5, 7, 9], "tickSize": -3.5, "labels": false, "title": null}}}},
              {"mark": {"type": "line", "opacity": 0}, "encoding": {"x": {"field": "w", "type": "quantitative", "axis": {"orient": "top", "values": [4800, 4900, 5000, 5100], "tickSize": -7, "labels": false, "title": null}}, "y": {"field": "f", "type": "quantitative", "axis": {"orient": "right", "values": [0, 2, 4, 6, 8], "tickSize": -7, "labels": false, "title": null}}}},
              {"mark": {"type": "line", "opacity": 0}, "encoding": {"x": {"field": "w", "type": "quantitative", "axis": {"orient": "top", "values": [4820, 4840, 4860, 4880, 4920, 4940, 4960, 4980, 5020, 5040, 5060, 5080], "tickSize": -3.5, "labels": false, "title": null}}, "y": {"field": "f", "type": "quantitative", "axis": {"orient": "right", "values": [1, 3, 5, 7, 9], "tickSize": -3.5, "labels": false, "title": null}}}},
              {"data": {"values": [{"t": "B"}]}, "mark": {"type": "text", "font": "DejaVu Serif", "fontSize": 11, "color": "#111"}, "encoding": {"x": {"datum": 4877, "type": "quantitative", "axis": null}, "y": {"datum": 6.0, "type": "quantitative", "axis": null}, "text": {"field": "t"}}}
             ]},
            {"width": 155, "height": 120, "data": {"name": "c3c"}, "resolve": {"axis": {"x": "independent", "y": "independent"}},
             "layer": [
              {"mark": {"type": "line", "color": "black", "strokeWidth": 1, "clip": true}, "encoding": {"x": {"field": "w", "type": "quantitative", "scale": {"domain": [4800, 5100], "nice": false, "zero": false}, "axis": {"orient": "bottom", "values": [4800, 4900, 5000, 5100], "tickSize": -7, "labels": false, "title": null}}, "y": {"field": "f", "type": "quantitative", "scale": {"domain": [-1, 9.6], "nice": false, "zero": false}, "axis": {"orient": "left", "values": [0, 2, 4, 6, 8], "tickSize": -7, "title": null}}}},
              {"mark": {"type": "line", "opacity": 0}, "encoding": {"x": {"field": "w", "type": "quantitative", "axis": {"orient": "bottom", "values": [4820, 4840, 4860, 4880, 4920, 4940, 4960, 4980, 5020, 5040, 5060, 5080], "tickSize": -3.5, "labels": false, "title": null}}, "y": {"field": "f", "type": "quantitative", "axis": {"orient": "left", "values": [1, 3, 5, 7, 9], "tickSize": -3.5, "labels": false, "title": null}}}},
              {"mark": {"type": "line", "opacity": 0}, "encoding": {"x": {"field": "w", "type": "quantitative", "axis": {"orient": "top", "values": [4800, 4900, 5000, 5100], "tickSize": -7, "labels": false, "title": null}}, "y": {"field": "f", "type": "quantitative", "axis": {"orient": "right", "values": [0, 2, 4, 6, 8], "tickSize": -7, "labels": false, "title": null}}}},
              {"mark": {"type": "line", "opacity": 0}, "encoding": {"x": {"field": "w", "type": "quantitative", "axis": {"orient": "top", "values": [4820, 4840, 4860, 4880, 4920, 4940, 4960, 4980, 5020, 5040, 5060, 5080], "tickSize": -3.5, "labels": false, "title": null}}, "y": {"field": "f", "type": "quantitative", "axis": {"orient": "right", "values": [1, 3, 5, 7, 9], "tickSize": -3.5, "labels": false, "title": null}}}},
              {"data": {"values": [{"t": "C"}]}, "mark": {"type": "text", "font": "DejaVu Serif", "fontSize": 11, "color": "#111"}, "encoding": {"x": {"datum": 4877, "type": "quantitative", "axis": null}, "y": {"datum": 6.0, "type": "quantitative", "axis": null}, "text": {"field": "t"}}}
             ]},
            {"width": 155, "height": 120, "data": {"name": "c3d"}, "resolve": {"axis": {"x": "independent", "y": "independent"}},
             "layer": [
              {"mark": {"type": "line", "color": "black", "strokeWidth": 1, "clip": true}, "encoding": {"x": {"field": "w", "type": "quantitative", "scale": {"domain": [4800, 5100], "nice": false, "zero": false}, "axis": {"orient": "bottom", "values": [4800, 4900, 5000, 5100], "format": "d", "tickSize": -7, "title": null}}, "y": {"field": "f", "type": "quantitative", "scale": {"domain": [-1, 9.6], "nice": false, "zero": false}, "axis": {"orient": "left", "values": [0, 2, 4, 6, 8], "tickSize": -7, "title": null}}}},
              {"mark": {"type": "line", "opacity": 0}, "encoding": {"x": {"field": "w", "type": "quantitative", "axis": {"orient": "bottom", "values": [4820, 4840, 4860, 4880, 4920, 4940, 4960, 4980, 5020, 5040, 5060, 5080], "tickSize": -3.5, "labels": false, "title": null}}, "y": {"field": "f", "type": "quantitative", "axis": {"orient": "left", "values": [1, 3, 5, 7, 9], "tickSize": -3.5, "labels": false, "title": null}}}},
              {"mark": {"type": "line", "opacity": 0}, "encoding": {"x": {"field": "w", "type": "quantitative", "axis": {"orient": "top", "values": [4800, 4900, 5000, 5100], "tickSize": -7, "labels": false, "title": null}}, "y": {"field": "f", "type": "quantitative", "axis": {"orient": "right", "values": [0, 2, 4, 6, 8], "tickSize": -7, "labels": false, "title": null}}}},
              {"mark": {"type": "line", "opacity": 0}, "encoding": {"x": {"field": "w", "type": "quantitative", "axis": {"orient": "top", "values": [4820, 4840, 4860, 4880, 4920, 4940, 4960, 4980, 5020, 5040, 5060, 5080], "tickSize": -3.5, "labels": false, "title": null}}, "y": {"field": "f", "type": "quantitative", "axis": {"orient": "right", "values": [1, 3, 5, 7, 9], "tickSize": -3.5, "labels": false, "title": null}}}},
              {"data": {"values": [{"t": "D"}]}, "mark": {"type": "text", "font": "DejaVu Serif", "fontSize": 11, "color": "#111"}, "encoding": {"x": {"datum": 4877, "type": "quantitative", "axis": null}, "y": {"datum": 6.0, "type": "quantitative", "axis": null}, "text": {"field": "t"}}}
             ]}
          ],
          "spacing": 0, "bounds": "flush"
        }
      ],
      "spacing": 201, "bounds": "flush"
    }
  ],
  "spacing": 208, "bounds": "flush"
}
